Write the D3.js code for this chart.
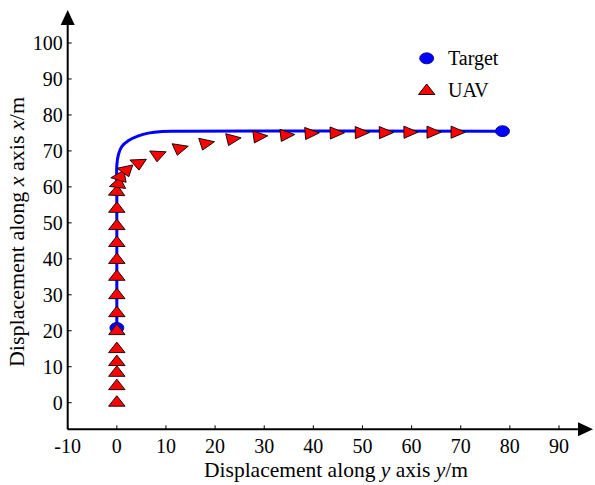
<!DOCTYPE html>
<html><head><meta charset="utf-8">
<script src="https://cdn.jsdelivr.net/npm/d3@7"></script>
<style>body{margin:0;background:#fff}svg{display:block}</style>
</head><body>
<svg id="c" width="595" height="485"></svg>
<script>
// ---- data ----
const xTicks = [-10,0,10,20,30,40,50,60,70,80,90];
const yTicks = [0,10,20,30,40,50,60,70,80,90,100];
// target trajectory (horizontal coord = displacement along y, vertical = along x)
const targetY = [0, 0, 0, 0.33, 1.0, 2.4, 4.4, 6.4, 9.2, 12, 78.5];
const targetX = [20.8, 60, 66.0, 69.0, 71.2, 72.9, 74.2, 74.95, 75.4, 75.5, 75.5];
// target markers (start and end)
const targetMarkY = [0, 78.5];
const targetMarkX = [20.8, 75.5];
// UAV positions
const uavY = [0,0,0,0,0,0,0,0,0,0,0,0,0,0,0.3,0.7,1.9,4.4,8.3,12.7,18.0,23.4,28.8,34.3,39.3,44.4,49.5,54.4,59.4,64.1,69.0];
const uavX = [0,4.6,8.3,11.3,14.9,19.9,24.9,29.9,35.0,39.7,44.4,49.1,53.9,58.6,60.8,62.8,64.7,66.6,68.9,70.7,72.1,73.3,74.0,74.4,74.9,75.0,75.1,75.1,75.2,75.2,75.2];
const legendLabels = ["Target","UAV"];

// ---- scales ----
const svg = d3.select("#c");
const FONT = "'Liberation Serif','Times New Roman',serif";
const sx = d3.scaleLinear().domain([-10,90]).range([67.7,559]);
const sy = d3.scaleLinear().domain([0,100]).range([402.7,43]);
const axisYv = -7.4;   // x-axis position in data units
const x0 = sx(-10), y0 = sy(axisYv);

// ---- axes ----
const g = svg.append("g");
g.append("line").attr("x1",x0).attr("x2",580).attr("y1",y0).attr("y2",y0).attr("stroke","#000").attr("stroke-width",2);
g.append("line").attr("x1",x0).attr("x2",x0).attr("y1",y0).attr("y2",24).attr("stroke","#000").attr("stroke-width",2);
g.append("path").attr("d",`M${x0},10 L${x0-7},25 L${x0+7},25 Z`).attr("fill","#000");
g.append("path").attr("d",`M593,${y0} L578,${y0-7} L578,${y0+7} Z`).attr("fill","#000");

// x ticks
xTicks.forEach(t=>{
  g.append("line").attr("x1",sx(t)).attr("x2",sx(t)).attr("y1",y0).attr("y2",y0-4).attr("stroke","#000").attr("stroke-width",1);
  g.append("text").attr("x",sx(t)).attr("y",y0+24).attr("text-anchor","middle")
    .attr("font-family",FONT).attr("font-size",20).text(t);
});
// y ticks
yTicks.forEach(t=>{
  g.append("line").attr("x1",x0).attr("x2",x0+4).attr("y1",sy(t)).attr("y2",sy(t)).attr("stroke","#000").attr("stroke-width",1);
  g.append("text").attr("x",x0-5).attr("y",sy(t)+7).attr("text-anchor","end")
    .attr("font-family",FONT).attr("font-size",20).text(t);
});

// axis titles
const xt = g.append("text").attr("x",336).attr("y",477).attr("text-anchor","middle")
  .attr("font-family",FONT).attr("font-size",21.5);
xt.append("tspan").text("Displacement along ");
xt.append("tspan").attr("font-style","italic").text("y");
xt.append("tspan").text(" axis ");
xt.append("tspan").attr("font-style","italic").text("y");
xt.append("tspan").text("/m");

const yt = g.append("text").attr("transform","translate(24,232) rotate(-90)").attr("text-anchor","middle")
  .attr("font-family",FONT).attr("font-size",22);
yt.append("tspan").text("Displacement along ");
yt.append("tspan").attr("font-style","italic").text("x");
yt.append("tspan").text(" axis ");
yt.append("tspan").attr("font-style","italic").text("x");
yt.append("tspan").text("/m");

// ---- target path ----
const tpts = targetY.map((v,i)=>[v,targetX[i]]);
svg.append("path").datum(tpts)
  .attr("d", d3.line().x(d=>sx(d[0])).y(d=>sy(d[1])).curve(d3.curveCatmullRom.alpha(0.5)))
  .attr("fill","none").attr("stroke","#0000ff").attr("stroke-width",3);

// target markers
targetMarkY.forEach((v,i)=>{
  svg.append("ellipse").attr("cx",sx(v)).attr("cy",sy(targetMarkX[i])).attr("rx",7).attr("ry",5.5)
    .attr("fill","#0000ff").attr("stroke","#000066").attr("stroke-width",0.8);
});

// ---- UAV triangles ----
const RX = 9.5, RY = 7;
function triPath(cx, cy, ang){
  const angs = [ang, ang+2*Math.PI/3, ang+4*Math.PI/3];
  return "M" + angs.map(a=>[(cx+RX*Math.cos(a)).toFixed(2),(cy-RY*Math.sin(a)).toFixed(2)].join(",")).join("L") + "Z";
}
const n = uavY.length;
for(let i=0;i<n;i++){
  const a = i>0 ? i-1 : i, b = i<n-1 ? i+1 : i;
  const dx = uavY[b]-uavY[a], dy = uavX[b]-uavX[a];
  const ang = Math.atan2(dy, dx);
  svg.append("path").attr("d",triPath(sx(uavY[i]),sy(uavX[i]),ang))
    .attr("fill","#ff0000").attr("stroke","#000").attr("stroke-width",0.9).attr("stroke-linejoin","miter");
}

// ---- legend ----
const lg = svg.append("g");
lg.append("ellipse").attr("cx",426.7).attr("cy",58.3).attr("rx",7).attr("ry",5.5)
  .attr("fill","#0000ff").attr("stroke","#000066").attr("stroke-width",0.8);
lg.append("path").attr("d",triPath(426.7,91,Math.PI/2)).attr("fill","#ff0000").attr("stroke","#000").attr("stroke-width",0.9);
lg.append("text").attr("x",448).attr("y",65).attr("font-family",FONT).attr("font-size",20).text(legendLabels[0]);
lg.append("text").attr("x",448).attr("y",97).attr("font-family",FONT).attr("font-size",20).text(legendLabels[1]);
</script>
</body></html>
